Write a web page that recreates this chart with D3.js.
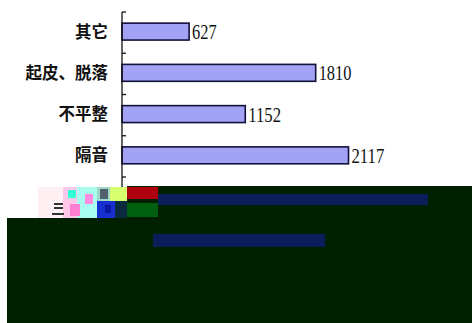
<!DOCTYPE html>
<html><head><meta charset="utf-8">
<script src="https://cdn.jsdelivr.net/npm/d3@7"></script>
<style>html,body{margin:0;padding:0;background:#fff;overflow:hidden}</style>
</head><body>
<svg id="c" width="472" height="323"></svg>
<script>
const categories = ["其它", "起皮、脱落", "不平整", "隔音"];
const values = [627, 1810, 1152, 2117];
const xDomain = [0, 3000];

const svg = d3.select("#c");
const x = d3.scaleLinear().domain(xDomain).range([122, 443]);
const y = d3.scaleBand().domain(categories).range([12, 177]).padding(0);
const bw = y.bandwidth();

// bars
svg.selectAll("rect.bar").data(categories).join("rect")
  .attr("class", "bar")
  .attr("x", x(0))
  .attr("y", c => y(c) + bw * 0.27)
  .attr("width", (c, i) => x(values[i]) - x(0))
  .attr("height", bw * 0.41)
  .attr("fill", "#a3a3f5")
  .attr("stroke", "#10103a")
  .attr("stroke-width", 1.6);

// value labels
svg.selectAll("text.val").data(categories).join("text")
  .attr("class", "val")
  .attr("x", (c, i) => x(values[i]) + 3)
  .attr("y", c => y(c) + bw * 0.27 + bw * 0.205)
  .attr("dy", "0.36em")
  .attr("font-family", "Liberation Serif, serif")
  .attr("font-size", 21)
  .attr("textLength", (c, i) => String(values[i]).length * 8.2)
  .attr("lengthAdjust", "spacingAndGlyphs")
  .attr("fill", "#111")
  .text((c, i) => values[i]);

// category labels
svg.selectAll("text.cat").data(categories).join("text")
  .attr("class", "cat")
  .attr("x", 108)
  .attr("y", c => y(c) + bw * 0.27 + bw * 0.205)
  .attr("dy", "0.36em")
  .attr("text-anchor", "end")
  .attr("font-family", "Noto Sans CJK SC, sans-serif")
  .attr("font-weight", "bold")
  .attr("font-size", 16.5)
  .attr("fill", "#111")
  .text(c => c);

// axis line and inward ticks at band boundaries
svg.append("line").attr("x1", x(0)).attr("x2", x(0))
  .attr("y1", y.range()[0]).attr("y2", 187)
  .attr("stroke", "#111").attr("stroke-width", 1.3);
const bounds = categories.map(c => y(c)).concat([y.range()[1]]);
svg.selectAll("line.tick").data(bounds).join("line")
  .attr("class", "tick")
  .attr("x1", x(0)).attr("x2", x(0) + 4)
  .attr("y1", d => d).attr("y2", d => d)
  .attr("stroke", "#111").attr("stroke-width", 1.3);

// corrupted lower area of the original image (decoration)
const g = svg.append("g");
g.append("rect").attr("x", 127).attr("y", 186).attr("width", 345).attr("height", 33).attr("fill", "#002000");
g.append("rect").attr("x", 7).attr("y", 218).attr("width", 465).attr("height", 105).attr("fill", "#002000");
g.append("rect").attr("x", 158).attr("y", 194).attr("width", 270).attr("height", 11).attr("fill", "#0a1f5a");
g.append("rect").attr("x", 153).attr("y", 234).attr("width", 172).attr("height", 13).attr("fill", "#0a1f5a");
g.append("rect").attr("x", 127).attr("y", 187).attr("width", 31).attr("height", 12).attr("fill", "#b00010");
g.append("rect").attr("x", 127).attr("y", 203).attr("width", 31).attr("height", 14).attr("fill", "#00600f");
// noisy legend fragment
const noise = [
  [38,187,25,31,"#fff0f4"],[63,187,14,31,"#ffc8e8"],[68,190,8,8,"#30ffd8"],
  [77,187,20,31,"#a8fff0"],[85,194,8,10,"#ff8ce0"],[70,204,10,12,"#ff80d0"],
  [97,187,13,14,"#a0d8c8"],[100,189,8,10,"#506070"],[110,187,17,14,"#d8ff70"],
  [97,201,18,17,"#1830d0"],[105,205,6,8,"#0818a0"],[115,201,12,17,"#0a2a40"]
];
g.selectAll("rect.n").data(noise).join("rect").attr("class","n")
  .attr("x", d => d[0]).attr("y", d => d[1]).attr("width", d => d[2]).attr("height", d => d[3]).attr("fill", d => d[4]);
g.append("rect").attr("x", 54).attr("y", 203).attr("width", 9).attr("height", 2).attr("fill", "#333");
g.append("rect").attr("x", 54).attr("y", 207).attr("width", 9).attr("height", 2).attr("fill", "#333");
g.append("rect").attr("x", 52).attr("y", 213).attr("width", 12).attr("height", 2).attr("fill", "#333");
</script>
</body></html>
